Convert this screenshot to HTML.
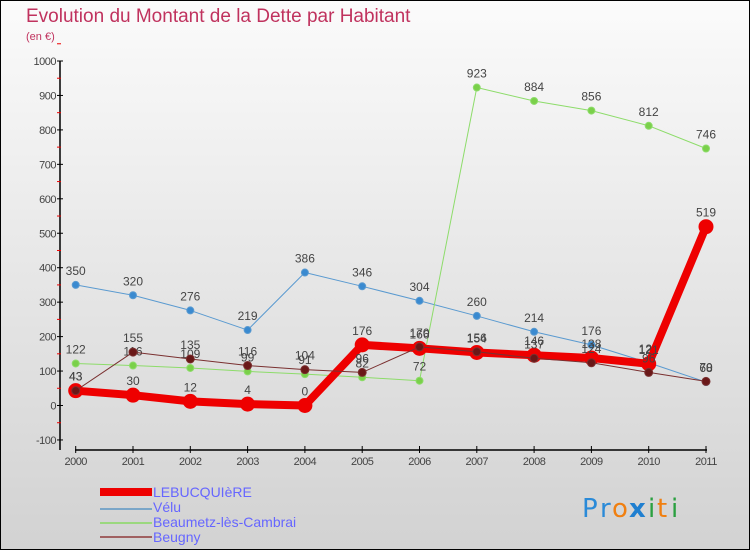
<!DOCTYPE html>
<html><head><meta charset="utf-8"><style>
body{margin:0;width:750px;height:550px;overflow:hidden;font-family:"Liberation Sans",sans-serif}
</style></head><body>
<svg width="750" height="550" xmlns="http://www.w3.org/2000/svg">
<defs><linearGradient id="bg" x1="0" y1="0" x2="0" y2="1"><stop offset="0" stop-color="#fbfbfb"/><stop offset="1" stop-color="#d2d2d2"/></linearGradient></defs>
<rect x="0" y="0" width="750" height="550" fill="url(#bg)" stroke="#000" stroke-width="2"/>
<text x="26" y="22" font-size="19" fill="#c0325e">Evolution du Montant de la Dette par Habitant</text>
<text x="26" y="40" font-size="11" fill="#c0325e">(en €)</text>
<g id="axes"></g>
<g id="series"></g>
<g id="legend" font-size="14" fill="#6666ff">
<rect x="100" y="488" width="52" height="8" fill="#ee0000"/>
<text x="153" y="497">LEBUCQUIèRE</text>
<line x1="100" y1="509" x2="152" y2="509" stroke="#7aa6c8" stroke-width="2"/>
<text x="153" y="512">Vélu</text>
<line x1="100" y1="523" x2="152" y2="523" stroke="#9bd87e" stroke-width="2"/>
<text x="153" y="527">Beaumetz-lès-Cambrai</text>
<line x1="100" y1="537" x2="152" y2="537" stroke="#a06060" stroke-width="2"/>
<text x="153" y="542">Beugny</text>
</g>
<g font-size="26" font-family="DejaVu Sans,sans-serif">
<text x="582" y="517" fill="#2a8ad8">P</text><text x="600" y="517" fill="#2a8ad8">r</text><text x="612" y="517" fill="#f07f10">o</text><text x="629" y="517" fill="#1f7fd0" font-weight="bold">x</text><text x="648" y="517" fill="#2aa040">i</text><text x="657" y="517" fill="#f07f10">t</text><text x="671" y="517" fill="#2aa040">i</text>
</g>
</svg>
<script>
const years=["2000","2001","2002","2003","2004","2005","2006","2007","2008","2009","2010","2011"];
const yTicks=[-100,0,100,200,300,400,500,600,700,800,900,1000];
const lebucq=[43,30,12,4,0,176,166,154,146,138,121,519];
const velu=[350,320,276,219,386,346,304,260,214,176,124,68];
const beaumetz=[122,116,109,99,91,82,72,923,884,856,812,746];
const beugny=[43,155,135,116,104,96,170,156,137,124,96,70];
const NS="http://www.w3.org/2000/svg";
const X=i=>75.7+i*(706-75.7)/11;
const Y=v=>405.5-v*0.3445;
function mk(t,a,p){const e=document.createElementNS(NS,t);for(const k in a)e.setAttribute(k,a[k]);p.appendChild(e);return e;}
const ax=document.getElementById('axes');
const yl=mk('line',{x1:60,y1:Y(1000),x2:60,y2:450,stroke:'#000','stroke-width':1.5},ax);


yTicks.forEach(v=>{
 mk('line',{x1:57,y1:Y(v),x2:63,y2:Y(v),stroke:'#000'},ax);
 mk('line',{x1:57,y1:Y(v+50),x2:61,y2:Y(v+50),stroke:'#e00'},ax);
 const t=mk('text',{x:56,y:Y(v)+4,'text-anchor':'end','font-size':11,fill:'#444','letter-spacing':'-0.5'},ax);
 t.textContent=v;
 
 
});
const xl=mk('line',{x1:75,y1:450,x2:707,y2:450,stroke:'#000','stroke-width':1.5},ax);


years.forEach((y,i)=>{
 mk('line',{x1:X(i),y1:446,x2:X(i),y2:453,stroke:'#000'},ax);
 const t=mk('text',{x:X(i),y:465,'text-anchor':'middle','font-size':11,fill:'#444','letter-spacing':'-0.5'},ax);
 t.textContent=y;
 
 
});
const sg=document.getElementById('series');
function series(name,d,color,w,r,dot){
 const g=mk('g',{},sg);
 
 
 const pl=mk('polyline',{points:d.map((v,i)=>X(i)+','+Y(v)).join(' '),fill:'none',stroke:color,'stroke-width':w,'stroke-linejoin':'round'},g);
 
 
 d.forEach((v,i)=>{
  const c=mk('circle',{cx:X(i),cy:Y(v),r:r,fill:dot,stroke:color,'stroke-width':1},g);
  
  
  const t=mk('text',{x:X(i),y:Y(v)-10,'text-anchor':'middle','font-size':12,fill:'#444'},g);
  t.textContent=v;
  
  
 });
}
series('velu',velu,'#5a9ad0',1,3.5,'#3a8ad0');
series('beaumetz',beaumetz,'#8ddc6a',1,3.5,'#7ad04a');
series('lebucquiere',lebucq,'#ee0000',8,7,'#ee0000');
series('beugny',beugny,'#7a3030',1,4,'#6a1818');
</script>
</body></html>
